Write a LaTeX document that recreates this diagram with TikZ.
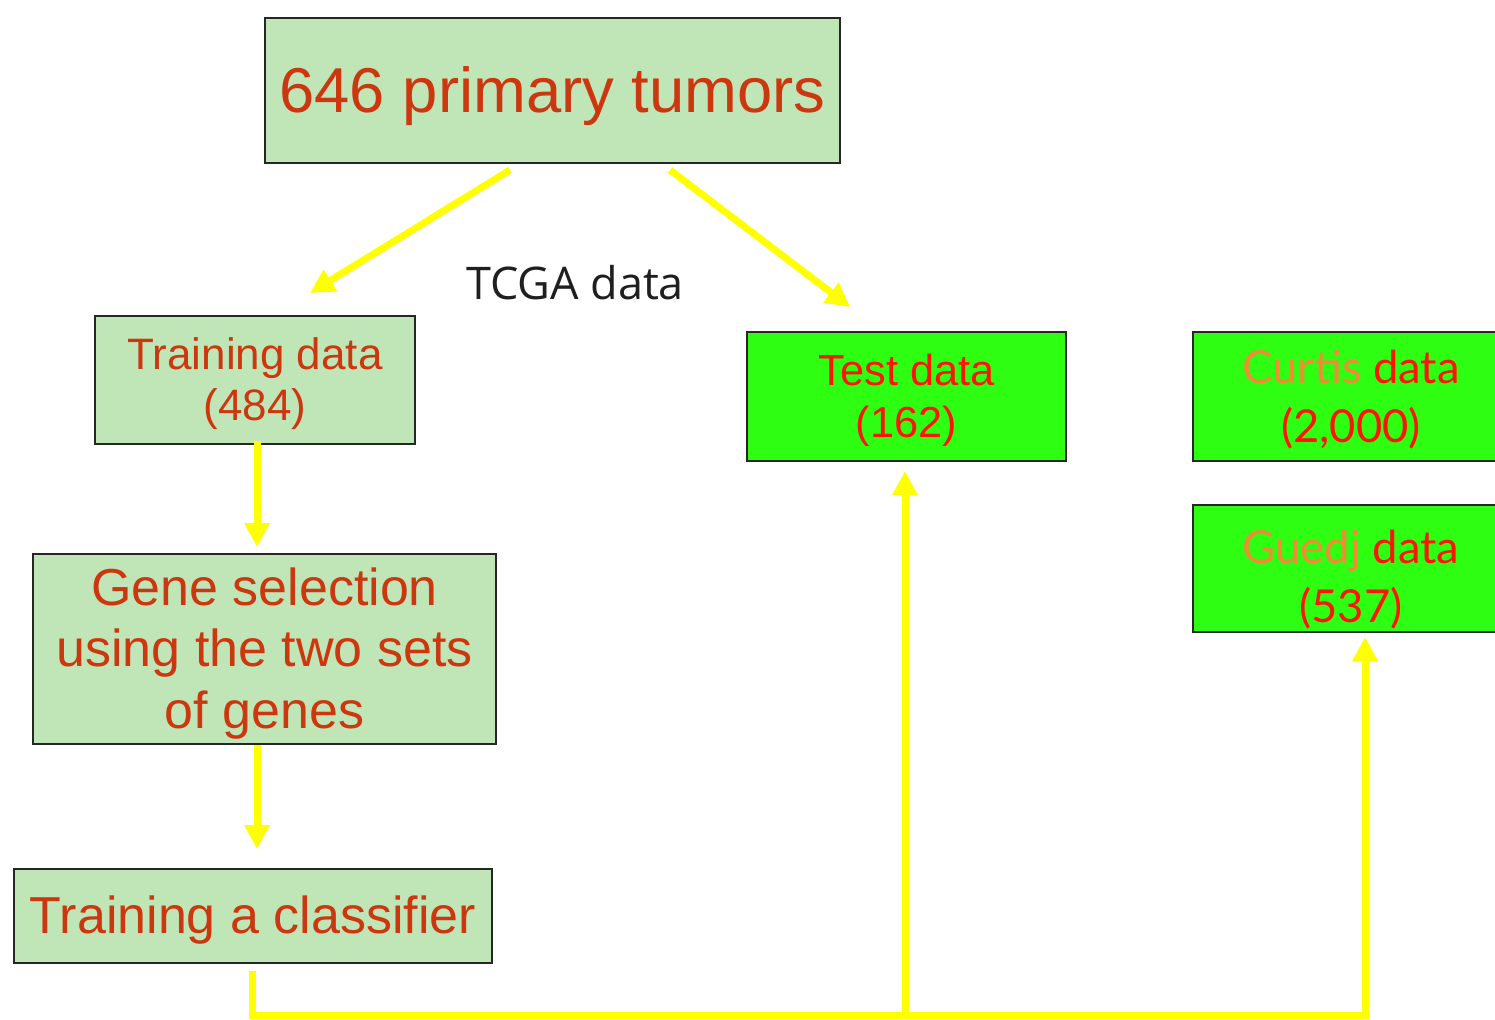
\documentclass[tikz,border=0pt]{standalone}
\usepackage{fontspec}
\setmainfont{Liberation Sans}
\newfontfamily\latofont{Lato}
\newfontfamily\opensansfont{Open Sans}
\usetikzlibrary{arrows.meta}
\definecolor{lightg}{RGB}{192,230,184}
\definecolor{brightg}{RGB}{46,255,18}
\definecolor{txt}{RGB}{205,55,15}
\definecolor{redt}{RGB}{255,20,0}
\definecolor{orat}{RGB}{240,140,50}
\definecolor{yel}{RGB}{255,255,0}
\tikzset{
  box/.style={draw=black!85, line width=1pt, inner sep=0pt, align=center},
  lbox/.style={box, fill=lightg, text=txt},
  gbox/.style={box, fill=brightg, text=redt},
  yarr/.style={draw=yel, line width=3.5pt, line join=miter,
    -{Triangle[length=12pt,width=12pt]}},
}
\begin{document}
\begin{tikzpicture}[x=0.5pt,y=-0.5pt]
\useasboundingbox (0,0) rectangle (1495,1019);
\node[lbox, minimum width=287.5pt, minimum height=72.5pt, text height=25pt, text depth=3.5pt,
  font=\fontsize{31.7}{38}\selectfont] (top) at (552.5,90.5) {646 primary tumors};
\node[lbox, minimum width=160pt, minimum height=64pt, text height=40pt, text depth=0pt,
  font=\fontsize{22}{25.5}\selectfont] (train) at (255,380) {Training data\\(484)};
\node[lbox, minimum width=231.5pt, minimum height=95pt, text height=79pt, text depth=0pt,
  font=\fontsize{26}{30.75}\selectfont] (gene) at (264.5,649) {Gene selection\\using the two sets\\of genes};
\node[lbox, minimum width=239pt, minimum height=47pt, text height=20pt, text depth=3pt,
  font=\fontsize{26}{30}\selectfont] (cls) at (253,916) {Training a classifier};
\node[gbox, minimum width=159.5pt, minimum height=64.5pt, text height=40.5pt, text depth=0pt,
  font=\fontsize{21.7}{26}\selectfont] (test) at (906.5,396.5) {Test data\\(162)};
\node[gbox, minimum width=158pt, minimum height=64.5pt, text height=45.5pt, text depth=0pt,
  font=\latofont\fontsize{22.7}{29.5}\selectfont] (curtis) at (1351,396.5)
  {\textcolor{orat}{Curtis} data\\(2,000)};
\node[gbox, minimum width=158pt, minimum height=63.5pt, text height=53.5pt, text depth=0pt,
  font=\latofont\fontsize{22.7}{29.5}\selectfont] (guedj) at (1351,568.5)
  {\textcolor{orat}{Guedj} data\\(537)};
\node[font=\opensansfont\fontsize{22.5}{26}\selectfont, text=black!88] (tcga) at (575,283) {TCGA data};
\coordinate (d1) at (510,170);
\coordinate (d2) at (310,293);
\coordinate (d3) at (670,170);
\coordinate (d4) at (850,307);
\coordinate (vx) at (257,0);
\coordinate (b1) at (252,1015);
\coordinate (b2) at (905,1015);
\coordinate (b3) at (1365,1015);
\draw[yarr] (d1) -- (d2);
\draw[yarr] (d3) -- (d4);
\draw[yarr, shorten <=-2pt, shorten >=3pt] (train.south -| vx) -- (gene.north -| vx);
\draw[yarr, shorten >=9.5pt] (gene.south -| vx) -- (cls.north -| vx);
\draw[yarr, shorten >=2pt] (cls.south -| b1) ++(0,7) -- (b1) -- (b3) -- (b3 |- guedj.south);
\draw[yarr, shorten >=4.5pt] (b2) -- (b2 |- test.south);
\end{tikzpicture}
\end{document}
